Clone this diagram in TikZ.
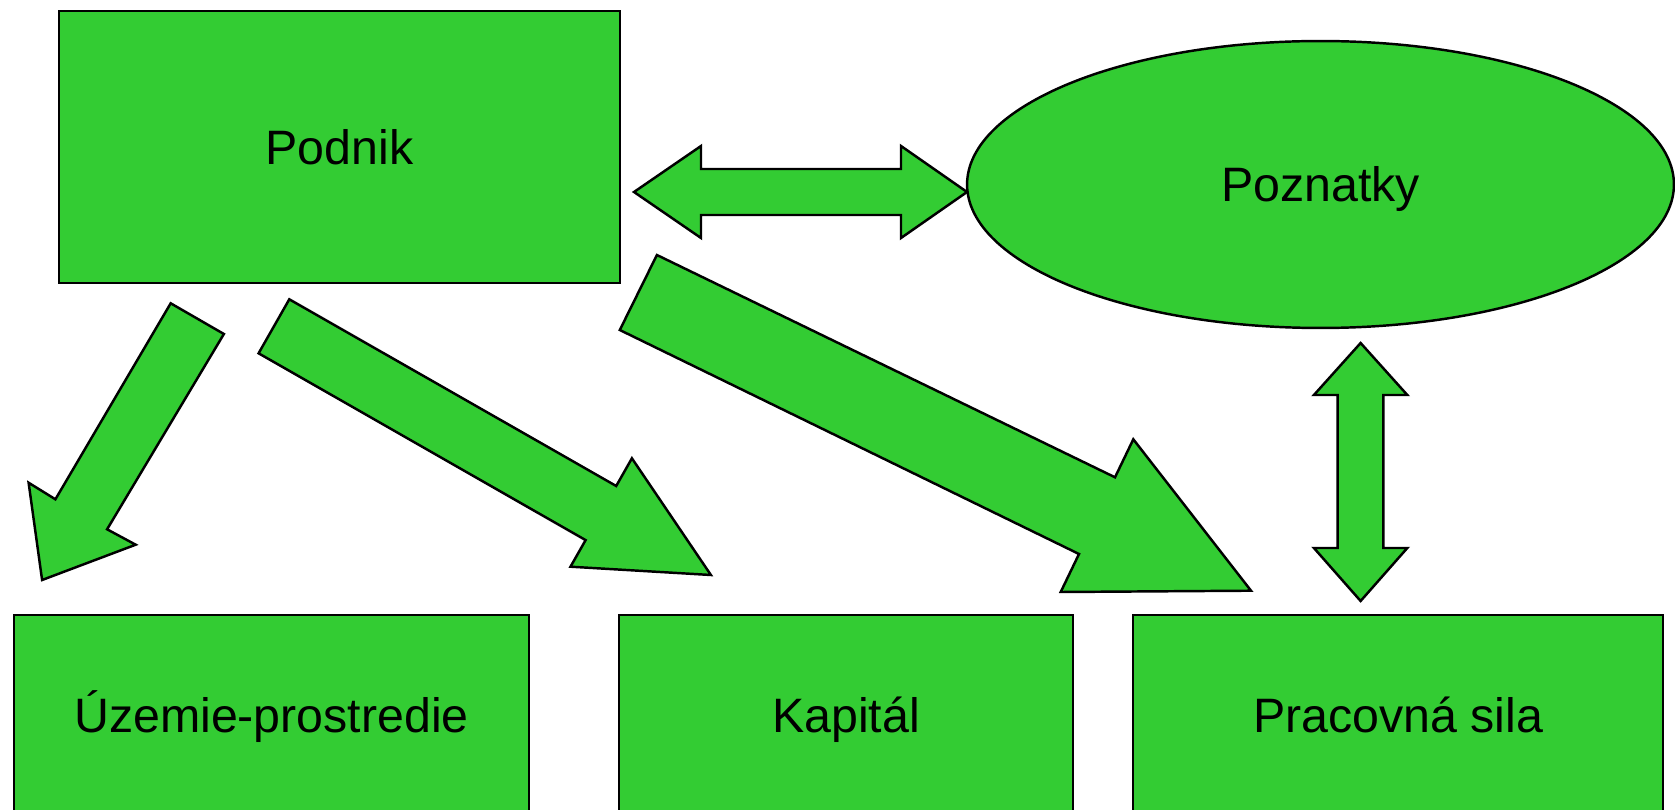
\documentclass[tikz,border=0pt]{standalone}
\usepackage{fontspec}
\setmainfont{Liberation Sans}
\usetikzlibrary{positioning,calc,shapes.geometric}
\definecolor{boxgreen}{HTML}{33CC33}
\tikzset{
    every node/.style={font=\fontsize{27.5}{33}\selectfont},
    greenbox/.style={draw=black, fill=boxgreen, line width=1.4pt, inner sep=0pt, text height=19.7pt, text depth=0pt},
    greenellipse/.style={draw=black, fill=boxgreen, line width=1.4pt, ellipse, inner sep=0pt, text height=19.7pt, text depth=0pt},
    blockarrow/.style={draw=black, fill=boxgreen, line width=1.4pt, line join=miter},
}

\begin{document}
\begin{tikzpicture}[x=0.02cm, y=-0.02cm]
% page frame (pixel grid of the reference)
\useasboundingbox (0,0) rectangle (1675,810);
\clip (0,0) rectangle (1675,810);

% boxes
\node[greenbox, minimum width=11.22cm, minimum height=5.44cm] (podnik) at (339.4,147) {Podnik};
\node[greenellipse, minimum width=14.14cm, minimum height=5.74cm] (poznatky) at (1320.5,184.5) {Poznatky};
\node[greenbox, minimum width=10.31cm, minimum height=4cm] (uzemie) at (271.5,715) {Územie-prostredie};
\node[greenbox, minimum width=9.08cm, minimum height=4cm] (kapital) at (846,715) {Kapitál};
\node[greenbox, minimum width=10.6cm, minimum height=4cm] (praca) at (1398,715) {Pracovná sila};

% double arrow Podnik <-> Poznatky
\draw[blockarrow] (634,192) -- (701,146) -- (701,169) -- (901,169) -- (901,146)
  -- (967,192) -- (901,238) -- (901,215) -- (701,215) -- (701,238) -- cycle;

% double arrow Poznatky <-> Pracovna sila
\draw[blockarrow] (1360.6,343) -- (1407.3,395) -- (1383.4,395) -- (1383.4,548) -- (1407.3,548)
  -- (1360.6,601) -- (1313.9,548) -- (1337.7,548) -- (1337.7,395) -- (1313.9,395) -- cycle;

% arrow Podnik -> Uzemie-prostredie
\draw[blockarrow] (170.7,303.3) -- (223.9,334) -- (107.1,529.3) -- (135.7,544.7) -- (42.1,580)
  -- (28.6,482.7) -- (55.4,499.3) -- cycle;

% arrow Podnik -> Kapital
\draw[blockarrow] (289.3,299.3) -- (616.2,486) -- (631.9,458.3) -- (710.9,575) -- (570.5,566.7)
  -- (585.6,540.1) -- (258.6,353.3) -- cycle;

% arrow Podnik -> Pracovna sila
\draw[blockarrow] (656.9,255) -- (1115,477.3) -- (1133.3,439.3) -- (1251,590.7) -- (1060.7,592)
  -- (1079,554) -- (619.8,330) -- cycle;

\end{tikzpicture}
\end{document}
